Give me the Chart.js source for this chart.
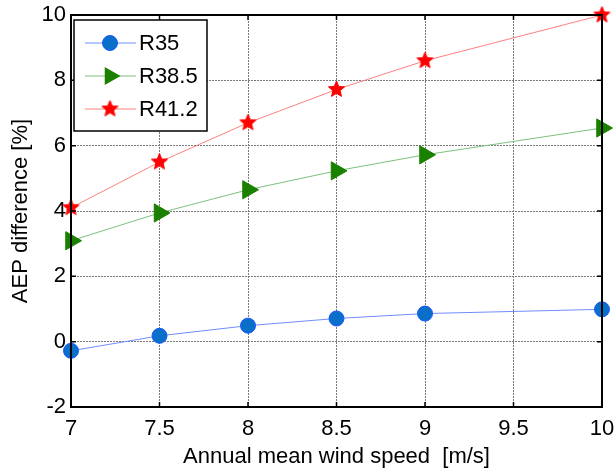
<!DOCTYPE html>
<html><head><meta charset="utf-8">
<script src="https://cdn.jsdelivr.net/npm/chart.js@4"></script>
<style>html,body{margin:0;padding:0;background:#fff}#c{display:block}</style>
</head><body>
<canvas id="c" width="614" height="475"></canvas>
<script>
const windSpeed = [7, 7.5, 8, 8.5, 9, 10];
const r35  = [-0.28, 0.18, 0.49, 0.71, 0.86, 0.99];
const r385 = [3.09, 3.94, 4.65, 5.23, 5.72, 6.54];
const r412 = [4.10, 5.50, 6.70, 7.72, 8.60, 10.0];
const seriesNames = ['R35', 'R38.5', 'R41.2'];
const xTicks = [7, 7.5, 8, 8.5, 9, 9.5, 10];
const yTicks = [-2, 0, 2, 4, 6, 8, 10];
const xTitle = 'Annual mean wind speed  [m/s]';
const yTitle = 'AEP difference [%]';

const FONT = '"Liberation Sans", Arial, sans-serif';

function starImg(r, color) {
  const c = document.createElement('canvas');
  const s = Math.ceil(r * 2 + 2);
  c.width = s; c.height = s;
  const g = c.getContext('2d');
  g.beginPath();
  for (let i = 0; i < 10; i++) {
    const rr = i % 2 ? r * 0.45 : r;
    const a = -Math.PI / 2 + i * Math.PI / 5;
    g.lineTo(s / 2 + rr * Math.cos(a), s / 2 + rr * Math.sin(a));
  }
  g.closePath();
  g.fillStyle = color; g.fill();
  g.strokeStyle = color; g.lineWidth = 1; g.stroke();
  return c;
}
const star = starImg(8.5, '#ff0000');

const styles = [
  {line: '#6f8cff', fill: '#0a6fc8', border: '#1a55ff', style: 'circle', r: 7.5, rot: 0},
  {line: '#7cc07c', fill: '#1a8000', border: '#1a8000', style: 'triangle', r: 10.5, rot: 90},
  {line: '#ff7f7f', fill: '#ff0000', border: '#ff0000', style: star, r: 8.5, rot: 0}
];
const seriesData = [r35, r385, r412];

const datasets = seriesData.map((vals, i) => ({
  label: seriesNames[i],
  data: windSpeed.map((x, j) => ({x: x, y: vals[j]})),
  borderColor: styles[i].line,
  borderWidth: 1,
  backgroundColor: styles[i].fill,
  pointBackgroundColor: styles[i].fill,
  pointBorderColor: styles[i].border,
  pointBorderWidth: 1,
  pointStyle: styles[i].style,
  pointRadius: styles[i].r,
  pointRotation: styles[i].rot,
  tension: 0,
  clip: false
}));

const framePlugin = {
  id: 'frame',
  afterDatasetsDraw(chart) {
    const {ctx, chartArea: a, scales} = chart;
    ctx.save();
    ctx.strokeStyle = '#000'; ctx.lineWidth = 1.5;
    const tl = 5;
    xTicks.forEach(v => {
      const x = scales.x.getPixelForValue(v);
      ctx.beginPath();
      ctx.moveTo(x, a.bottom); ctx.lineTo(x, a.bottom - tl);
      ctx.moveTo(x, a.top); ctx.lineTo(x, a.top + tl);
      ctx.stroke();
    });
    yTicks.forEach(v => {
      const y = scales.y.getPixelForValue(v);
      ctx.beginPath();
      ctx.moveTo(a.left, y); ctx.lineTo(a.left + tl, y);
      ctx.moveTo(a.right, y); ctx.lineTo(a.right - tl, y);
      ctx.stroke();
    });
    ctx.lineWidth = 2;
    ctx.strokeStyle = '#000';
    ctx.strokeRect(a.left, a.top, a.right - a.left, a.bottom - a.top);
    const lx = 74, ly = 20, lw = 133, lh = 111;
    ctx.fillStyle = '#fff';
    ctx.fillRect(lx, ly, lw, lh);
    ctx.lineWidth = 1.5;
    ctx.strokeStyle = '#000';
    ctx.strokeRect(lx, ly, lw, lh);
    const rows = [43, 76, 109];
    ctx.font = '22px ' + FONT;
    ctx.textBaseline = 'middle';
    ctx.textAlign = 'left';
    rows.forEach((yy, i) => {
      const s = styles[i];
      ctx.strokeStyle = s.line; ctx.lineWidth = 1;
      ctx.beginPath(); ctx.moveTo(85, yy); ctx.lineTo(136, yy); ctx.stroke();
      const mx = 110;
      if (i === 0) {
        ctx.beginPath(); ctx.arc(mx, yy, s.r, 0, Math.PI * 2);
        ctx.fillStyle = s.fill; ctx.fill();
        ctx.strokeStyle = s.border; ctx.stroke();
      } else if (i === 1) {
        const r = s.r;
        ctx.beginPath();
        ctx.moveTo(mx + r, yy);
        ctx.lineTo(mx - r / 2, yy - r * 0.866);
        ctx.lineTo(mx - r / 2, yy + r * 0.866);
        ctx.closePath();
        ctx.fillStyle = s.fill; ctx.fill();
      } else {
        ctx.drawImage(star, mx - star.width / 2, yy - star.height / 2);
      }
      ctx.fillStyle = '#000';
      ctx.fillText(seriesNames[i], 139, yy + 1);
    });
    ctx.restore();
  }
};

new Chart(document.getElementById('c'), {
  type: 'line',
  data: {datasets},
  options: {
    responsive: false,
    animation: false,
    events: [],
    layout: {padding: {left: 0, right: 12, top: 15, bottom: 0}},
    plugins: {legend: {display: false}, tooltip: {enabled: false}},
    scales: {
      x: {
        type: 'linear', min: 7, max: 10,
        afterBuildTicks: s => { s.ticks = xTicks.map(v => ({value: v})); },
        afterFit: s => { s.height = 68; s.paddingRight = 0; s.paddingLeft = 0; },
        ticks: {color: '#000', font: {family: FONT, size: 22}, padding: 9, maxRotation: 0, autoSkip: false,
                callback: v => String(v)},
        grid: {color: '#7a7a7a', lineWidth: 1, drawTicks: false},
        border: {display: false, dash: [2, 1]},
        title: {display: true, text: xTitle, color: '#000', font: {family: FONT, size: 22}, padding: {top: 0, bottom: 5}}
      },
      y: {
        type: 'linear', min: -2, max: 10,
        afterBuildTicks: s => { s.ticks = yTicks.map(v => ({value: v})); },
        afterFit: s => { s.width = 71; s.paddingTop = 0; s.paddingBottom = 0; },
        ticks: {color: '#000', font: {family: FONT, size: 22}, padding: 5, autoSkip: false,
                callback: v => String(v)},
        grid: {color: '#7a7a7a', lineWidth: 1, drawTicks: false},
        border: {display: false, dash: [2, 1]},
        title: {display: true, text: yTitle, color: '#000', font: {family: FONT, size: 22}, padding: {top: 8, bottom: 0}}
      }
    }
  },
  plugins: [framePlugin]
});
</script>
</body></html>
